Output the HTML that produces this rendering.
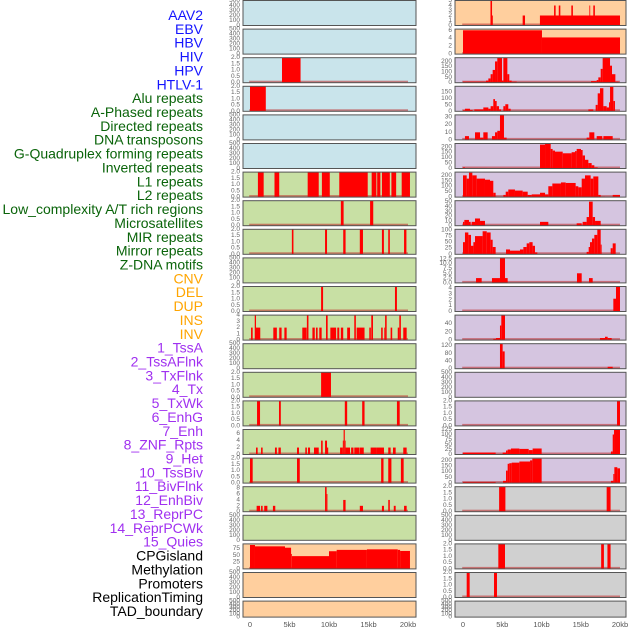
<!DOCTYPE html>
<html><head><meta charset="utf-8">
<style>
html,body{margin:0;padding:0;background:#fff;}
svg{display:block;font-family:"Liberation Sans",sans-serif;}
</style></head>
<body>
<svg id="chart" width="630" height="630" viewBox="0 0 630 630" xmlns="http://www.w3.org/2000/svg"></svg>
<script>
// ---------- DATA ----------
const trackLabels = ["AAV2","EBV","HBV","HIV","HPV","HTLV-1","Alu repeats","A-Phased repeats","Directed repeats","DNA transposons","G-Quadruplex forming repeats","Inverted repeats","L1 repeats","L2 repeats","Low_complexity A/T rich regions","Microsatellites","MIR repeats","Mirror repeats","Z-DNA motifs","CNV","DEL","DUP","INS","INV","1_TssA","2_TssAFlnk","3_TxFlnk","4_Tx","5_TxWk","6_EnhG","7_Enh","8_ZNF_Rpts","9_Het","10_TssBiv","11_BivFlnk","12_EnhBiv","13_ReprPC","14_ReprPCWk","15_Quies","CPGisland","Methylation","Promoters","ReplicationTiming","TAD_boundary"];
const labelGroups = [6,13,5,15,5];
const groupColors = ["#1414ff","#0a640a","#ffa500","#a030f0","#000000"];
const xTickValues = [0,5,10,15,20];
const xTickLabels = ["0","5kb","10kb","15kb","20kb"];

const T5 = [0,100,200,300,400,500];
const T2 = [0,0.5,1,1.5,2];
const leftBg = ["#c9e4eb","#c9e4eb","#c9e4eb","#c9e4eb","#c9e4eb","#c9e4eb","#c8e0a4","#c8e0a4","#c8e0a4","#c8e0a4","#c8e0a4","#c8e0a4","#c8e0a4","#c8e0a4","#c8e0a4","#c8e0a4","#c8e0a4","#c8e0a4","#c8e0a4","#ffcf9e","#ffcf9e","#ffcf9e"];
const rightBg = ["#ffcf9e","#ffcf9e","#d5c5e0","#d5c5e0","#d5c5e0","#d5c5e0","#d5c5e0","#d5c5e0","#d5c5e0","#d5c5e0","#d5c5e0","#d5c5e0","#d5c5e0","#d5c5e0","#d5c5e0","#d5c5e0","#d5c5e0","#d0d0d0","#d0d0d0","#d0d0d0","#d0d0d0","#d0d0d0"];

const leftTicks = [T5,T5,T2,T2,T5,T5,T2,T2,T2,T5,T2,[0,1,2,3,4],T5,T2,T2,[0,2,4,6],T2,[0,2,4,6,8],T5,[0,25,50,75],T5,T5];
const leftMax = [500,500,2,2,500,500,2,2,2,500,2,4,500,2,2,7.2,2,8.5,500,92,500,500];
const leftSegs = [
 [],[],
 [[4.05,6.4,2]],
 [[0,2,2]],
 [],[],
 [[1.0,1.73,2],[3.1,3.7,2],[7.3,8.7,2],[9.1,10.1,2],[11.3,14.9,2],[15.4,16.0,2],[16.1,16.5,2],[16.7,17.7,2],[17.9,18.5,2],[19.2,20.25,2]],
 [[11.5,11.85,2],[15.2,15.6,2]],
 [[5.3,5.5,2],[9.5,9.75,2],[11.8,12.1,2],[13.9,14.3,2],[16.7,16.95,2],[17.5,17.7,2],[19.5,19.8,2]],
 [],
 [[9.0,9.25,2],[18.35,18.6,2]],
 [[0.13,0.34,2],[0.6,0.76,4],[0.76,1.3,2],[2.95,3.4,2],[3.7,4.0,2],[4.35,4.64,2],[6.62,7.17,2],[7.2,7.4,4],[7.9,8.2,2],[8.35,8.56,2],[8.77,9.07,2],[9.62,9.83,4],[10.17,10.9,2],[11.05,11.3,2],[11.5,11.8,2],[12.3,12.66,2],[13.2,13.4,4],[13.5,14.5,2],[15.1,15.3,2],[15.35,15.57,4],[16.6,16.8,2],[17.0,17.1,2],[17.1,17.3,4],[17.8,18.0,2],[18.7,18.9,2],[18.9,19.1,4],[19.4,19.83,2]],
 [],
 [[9.0,10.25,2]],
 [[0.89,1.27,2],[3.67,3.9,2],[12.0,12.3,2],[14.2,14.5,2],[18.6,18.95,2]],
 [[0.76,0.97,2],[1.4,1.6,2],[3.16,3.4,2],[3.6,3.9,2],[5.95,6.2,2],[7.0,7.2,2],[7.34,7.6,2],[8.1,8.7,2],[9.0,9.2,4],[9.5,9.75,4],[9.75,9.9,2],[11.4,11.75,2],[11.75,11.85,4],[11.85,12.0,7.2],[12.0,12.1,4],[12.1,12.66,2],[12.8,13.1,2],[13.2,13.85,2],[13.9,14.4,2],[15.27,16.0,2],[16.0,16.96,2],[17.5,17.8,2],[18.1,18.44,2],[19.4,19.83,2]],
 [[0,0.34,2],[5.95,6.3,2],[16.6,16.9,2],[17.5,17.9,2],[19.1,19.45,2]],
 [[0.84,1.27,2],[1.4,1.6,2],[1.8,2.2,2],[2.9,3.2,2],[9.5,9.7,8.5],[9.7,9.8,6],[11.8,12.1,4],[13.9,14.3,2],[16.7,16.96,2],[17.5,17.7,4],[18.2,18.44,2],[19.5,19.83,2]],
 [],
 [[0,0.63,88],[0.63,4.43,83],[4.43,5.2,78],[5.2,5.3,55],[5.3,10,47],[10,10.97,65],[10.97,14.8,70],[14.8,18.7,72],[18.7,19.0,70],[19.0,20.25,66]],
 [],[]
];

const rightTicks = [[0,1,2,3,4,5],[0,2,4,6],[0,50,100,150,200],[0,50,100,150],[0,10,20,30],[0,50,100,150,200],[0,50,100,150,200],[0,10,20,30,40,50],[0,25,50,75,100],[0,2.5,5,7.5,10,12.5],[0,1,2,3,4],[0,20,40],[0,40,80,120],T5,T2,[0,25,50,75,100,125],[0,50,100,150,200],T2,T5,T2,T2,T5];
const rightMax = [5,6.3,235,195,33,230,230,52,103,13,4.3,60,130,500,2,125,220,2,500,2,2,500];
const rightSegs = [
 [[3.5,3.7,5],[3.7,3.8,2],[7.6,7.9,2],[9.8,20,2],[11.6,11.8,4],[12.2,12.4,4],[13.8,14.0,4],[16.1,16.2,4],[16.6,16.8,4]],
 [[0,10.06,6],[10.06,20,4.2]],
 [[0,2.93,10],[2.93,3.23,20],[3.23,3.52,40],[3.52,3.78,80],[3.78,4.08,120],[4.08,4.37,200],[4.37,4.97,235],[4.97,5.14,20],[5.14,5.65,235],[5.65,5.9,80],[5.9,6.2,20],[6.2,6.84,10],[6.84,16.31,3],[16.31,17.03,15],[17.03,17.24,25],[17.24,17.54,50],[17.54,17.79,130],[17.79,18.73,235],[18.73,18.98,160],[18.98,19.41,80],[19.41,19.83,10]],
 [[0,0.25,8],[0.25,0.89,20],[0.89,1.23,10],[1.44,2.59,15],[2.59,3.23,30],[3.23,3.52,20],[3.52,3.86,40],[3.86,4.08,95],[4.08,4.29,80],[4.29,4.59,40],[4.59,4.84,15],[5.14,5.39,40],[5.39,5.77,55],[5.77,6.07,20],[15.97,16.6,15],[16.9,17.16,50],[17.16,17.45,140],[17.45,17.88,180],[17.88,18.3,40],[18.3,18.6,30],[18.6,18.73,70],[18.73,19.15,190],[19.15,19.36,80]],
 [[0.25,0.76,5],[1.53,2.17,10],[2.17,2.59,3],[2.59,3.14,10],[3.69,4.08,5],[4.08,4.37,10],[4.37,4.71,12],[4.71,5.22,33],[5.22,5.56,3],[15.75,16.09,3],[16.09,16.73,10],[17.03,17.75,5],[17.88,19.07,5]],
 [[0,0.25,10],[0.25,1.95,5],[2.08,3.1,5],[9.81,10.45,220],[10.45,11.17,230],[11.17,11.42,180],[11.42,11.72,165],[11.72,12.7,155],[12.7,13.84,140],[13.84,14.27,150],[14.27,14.48,160],[14.48,15.03,180],[15.03,15.24,170],[15.24,15.54,120],[15.54,15.97,80],[15.97,16.39,50],[16.39,16.73,30],[16.73,17.16,10]],
 [[0,0.47,200],[0.47,0.76,170],[0.76,1.19,225],[1.19,1.74,200],[1.74,2.8,170],[2.8,3.44,160],[3.44,3.86,150],[3.86,4.16,40],[4.16,4.37,5],[5.14,5.44,20],[5.44,5.77,50],[5.77,6.62,70],[6.62,7.6,60],[7.6,8.24,50],[8.24,8.75,20],[8.75,9.81,25],[9.81,10.45,40],[10.45,10.87,25],[10.87,11.38,100],[11.38,12.48,125],[12.48,13.08,135],[13.08,14.35,130],[14.35,14.69,100],[14.69,15.12,90],[15.12,15.54,170],[15.54,16.26,200],[16.26,16.6,170],[16.6,17.24,190],[17.24,17.54,20],[17.54,18.09,5],[19.07,20,20]],
 [[0,0.17,8],[0.17,0.76,12],[0.76,0.98,8],[1.1,1.53,8],[1.53,2.17,15],[2.17,2.8,10],[9.81,10.87,8],[14.48,15.12,5],[15.24,15.75,8],[15.75,16.05,18],[16.05,16.52,50],[16.52,16.82,18],[16.82,17.54,10]],
 [[0,0.25,50],[0.25,0.68,90],[0.68,1.02,80],[1.02,1.32,35],[1.32,1.53,50],[1.53,2.5,75],[2.5,3.02,95],[3.02,3.52,90],[3.52,3.78,60],[3.78,4.16,30],[5.48,5.99,20],[5.99,7.26,15],[7.26,7.69,20],[7.69,8.11,30],[8.11,8.45,45],[8.45,8.87,50],[8.87,9.17,35],[9.17,9.47,8],[15.75,16.01,10],[16.01,16.18,30],[16.18,16.43,50],[16.43,16.73,65],[16.73,17.11,80],[17.11,17.54,102],[17.54,17.66,40],[18.81,19.07,25],[19.07,19.45,45]],
 [[1.66,2.38,2.5],[3.69,4.71,2.5],[4.71,5.35,13],[5.35,5.69,2.5],[14.52,15.12,5],[16.05,16.52,2.5]],
 [[19.15,19.49,2.2],[19.49,20,4.3]],
 [[3.86,4.2,3],[4.2,4.71,5],[4.71,4.88,35],[4.88,5.35,60],[17.45,18.09,5],[18.09,18.43,8],[18.43,18.94,5]],
 [[4.71,5.05,130],[5.05,5.31,90],[18.43,19.07,10]],
 [],
 [[19.62,20,2]],
 [[0,4.16,10],[5.05,5.48,10],[5.48,5.69,20],[5.69,6.11,25],[6.11,7.18,30],[7.18,8.37,28],[8.37,8.87,22],[8.87,10.02,30],[18.85,19.07,15],[19.07,19.24,100],[19.24,20,125]],
 [[0,4.16,10],[5.1,5.48,20],[5.48,5.69,110],[5.69,5.9,170],[5.9,6.2,175],[6.2,7.18,180],[7.18,8.54,190],[8.54,8.83,200],[8.83,10.02,215],[18.85,19.15,20],[19.15,19.28,80],[19.28,19.66,140],[19.66,20,130]],
 [[4.6,5.4,2],[18.3,18.8,2]],
 [],
 [[4.5,5.35,2],[17.6,17.95,2],[18.4,18.8,2]],
 [[0.47,0.85,2],[3.95,4.33,2]],
 []
];

// ---------- RENDER ----------
const NS = "http://www.w3.org/2000/svg";
const svg = document.getElementById("chart");
function mk(tag, attrs, parent){ const e=document.createElementNS(NS,tag); for(const k in attrs) e.setAttribute(k,attrs[k]); (parent||svg).appendChild(e); return e; }

const cols = [
 {px0:243, px1:416, x0:250, x20:408, tickX:240, bgs:leftBg, ticks:leftTicks, max:leftMax, segs:leftSegs, name:"left"},
 {px0:455, px1:626, x0:463, x20:620, tickX:452, bgs:rightBg, ticks:rightTicks, max:rightMax, segs:rightSegs, name:"right"}
];
function xScale(c, kb){ return c.x0 + (c.x20 - c.x0) * kb / 20; }
function rowTop(i){ return 0.5 + i*28.6; }
function rowH(i){ return i===21 ? 16 : 25; }
function yScale(i, v, max){ return rowTop(i) + rowH(i) - (v/max)*rowH(i); }

// labels
let li = 0;
labelGroups.forEach((n,g)=>{
  for(let k=0;k<n;k++){
    const t = mk("text",{x:203,y:15+li*13.86,"text-anchor":"end","dominant-baseline":"central","font-size":"14",fill:groupColors[g]});
    t.textContent = trackLabels[li];
    
    
    li++;
  }
});

cols.forEach(c=>{
  for(let i=0;i<22;i++){
    const top=rowTop(i), h=rowH(i), max=c.max[i];
    const g = mk("g",{});
    
    
    const bg = mk("rect",{x:c.px0,y:top,width:c.px1-c.px0,height:h,fill:c.bgs[i]},g);
    
    
    const segs = c.segs[i];
    if(segs.length){
      const base = mk("rect",{x:xScale(c,-0.1),y:top+h-2,width:xScale(c,20)-xScale(c,-0.1),height:2,fill:"rgba(190,40,40,0.55)"},g);
      
      
    }
    segs.forEach(s=>{
      const y = yScale(i, s[2], max);
      const r = mk("rect",{x:xScale(c,s[0]),y:y,width:Math.max(0.8,xScale(c,s[1])-xScale(c,s[0])),height:top+h-y,fill:"#ff0000"},g);
      
      
    });
    const bd = mk("rect",{x:c.px0,y:top,width:c.px1-c.px0,height:h,fill:"none",stroke:"#555","stroke-width":1},g);
    
    
    const ticks = c.ticks[i];
    const dec = ticks.some(v=>v%1!==0);
    ticks.forEach(v=>{
      const t = mk("text",{x:c.tickX,y:yScale(i,v,max),"text-anchor":"end","dominant-baseline":"central","font-size":"6.5",fill:"#666"},g);
      t.textContent = dec ? v.toFixed(1) : String(v);
      
      
    });
  }
  xTickValues.forEach((v,k)=>{
    const t = mk("text",{x:xScale(c,v),y:627,"text-anchor":"middle","font-size":"7.5",fill:"#555"});
    t.textContent = xTickLabels[k];
    
    
  });
});
</script>
</body></html>
